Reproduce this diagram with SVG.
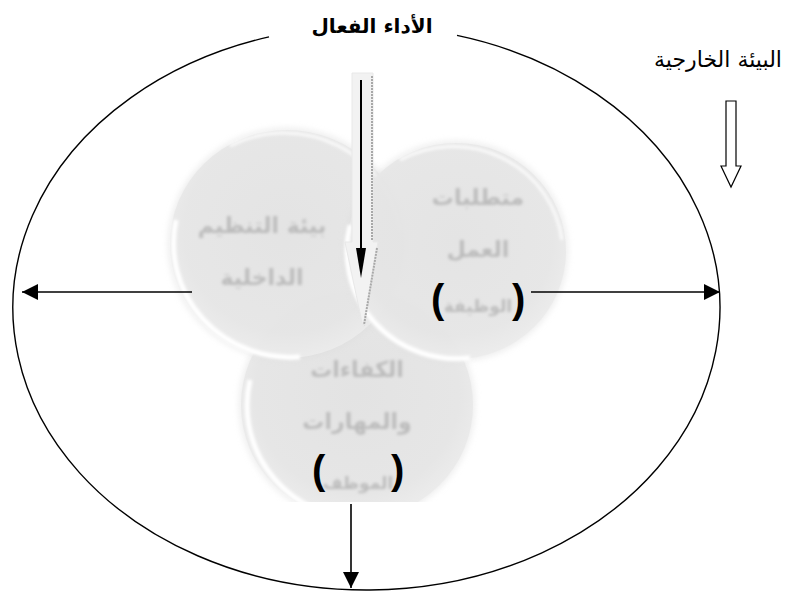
<svg xmlns="http://www.w3.org/2000/svg" width="793" height="594" viewBox="0 0 793 594">
<style>
.ar{font-family:"DejaVu Sans","Noto Sans",sans-serif;}
.title{font-size:20px;font-weight:bold;fill:#000;}
.lbl{font-size:22px;fill:#000;}
.ghost{font-size:22px;font-weight:bold;fill:#bcbcbc;}
.ghost-s{font-size:17px;font-weight:bold;fill:#bcbcbc;}
.par{font-family:"Liberation Sans",sans-serif;font-size:40px;font-weight:bold;fill:#000;}
.conn{stroke:#000;stroke-width:1.6;fill:none;}
</style>
<defs>
<radialGradient id="bub" cx="0.5" cy="0.45" r="0.55">
<stop offset="0" stop-color="#e3e3e3"/>
<stop offset="0.8" stop-color="#e6e6e6"/>
<stop offset="1" stop-color="#ececec"/>
</radialGradient>
<filter id="soft" x="-20%" y="-20%" width="140%" height="140%"><feGaussianBlur stdDeviation="1.6"/></filter>
<filter id="halo" x="-20%" y="-20%" width="140%" height="140%"><feGaussianBlur stdDeviation="3"/></filter>
<marker id="tri" viewBox="0 0 16 16" refX="16" refY="8" markerWidth="16" markerHeight="16" markerUnits="userSpaceOnUse" orient="auto">
<path d="M0,0 L16,8 L0,16 Z" fill="#000"/>
</marker>
<clipPath id="cutB"><rect x="0" y="0" width="793" height="502"/></clipPath>
</defs>

<!-- outer environment ellipse -->
<g id="outer">
<path d="M457,35.4 A353.5,282 0 1 1 269,36.9" fill="none" stroke="#000" stroke-width="1.4"/>
<text class="ar title" x="372" y="33" text-anchor="middle">الأداء الفعال</text>
</g>

<g id="external">
<text class="ar lbl" x="718" y="67" text-anchor="middle">البيئة الخارجية</text>
<path d="M726,101 L736,101 L736,166 L741,166 L731,187 L721,166 L726,166 Z" fill="#fff" stroke="#000" stroke-width="1.2"/>
</g>

<!-- bottom bubble -->
<g id="skills" clip-path="url(#cutB)">
<ellipse cx="357" cy="405" rx="118" ry="116" fill="#dcdcdc" opacity="0.5" filter="url(#halo)"/>
<ellipse cx="357" cy="405" rx="116" ry="114" fill="url(#bub)"/>
<path d="M250,380 A116,114 0 0 0 345,518" fill="none" stroke="#fff" stroke-width="5" filter="url(#soft)"/>
<g filter="url(#soft)">
<text class="ar ghost" x="357" y="377" text-anchor="middle">الكفاءات</text>
<text class="ar ghost" x="357" y="429" text-anchor="middle">والمهارات</text>
<text class="ar ghost-s" x="358" y="489" text-anchor="middle">الموظف</text>
</g>
<text class="par" x="312" y="484">(</text>
<text class="par" x="391" y="484">)</text>
</g>

<!-- left bubble -->
<g id="internal">
<ellipse cx="287" cy="244" rx="119" ry="116" fill="#dcdcdc" opacity="0.5" filter="url(#halo)"/>
<ellipse cx="287" cy="244" rx="117" ry="114" fill="url(#bub)" opacity="0.93"/>
<path d="M176,220 A117,114 0 0 0 300,357" fill="none" stroke="#fff" stroke-width="5" filter="url(#soft)"/>
<path d="M230,146 A117,114 0 0 1 400,230" fill="none" stroke="#fff" stroke-width="3" opacity="0.8" filter="url(#soft)"/>
<g filter="url(#soft)">
<text class="ar ghost" x="262" y="233" text-anchor="middle">بيئة التنظيم</text>
<text class="ar ghost" x="262" y="285" text-anchor="middle">الداخلية</text>
</g>
</g>

<!-- right bubble -->
<g id="job">
<ellipse cx="456" cy="251" rx="112" ry="110" fill="#dcdcdc" opacity="0.5" filter="url(#halo)"/>
<ellipse cx="456" cy="251" rx="110" ry="108" fill="url(#bub)" opacity="0.9"/>
<path d="M350,225 A110,108 0 0 0 470,358" fill="none" stroke="#fff" stroke-width="5" filter="url(#soft)"/>
<path d="M400,160 A110,108 0 0 1 562,240" fill="none" stroke="#fff" stroke-width="3" opacity="0.8" filter="url(#soft)"/>
<g filter="url(#soft)">
<text class="ar ghost" x="478" y="205" text-anchor="middle">متطلبات</text>
<text class="ar ghost" x="478" y="257" text-anchor="middle">العمل</text>
<text class="ar ghost-s" x="478" y="312" text-anchor="middle">الوظيفة</text>
</g>
<text class="par" x="431" y="313">(</text>
<text class="par" x="512" y="313">)</text>
</g>

<!-- central performance arrow -->
<g id="core">
<path d="M352,73 L373,73 L373,242 L378,242 L363,327 L345,242 L352,242 Z" fill="#f2f2f2" stroke="#e8e8e8" stroke-width="1"/>
<path d="M372,76 L372,240 M377,248 L364,325" stroke="#a8a8a8" stroke-width="2" stroke-dasharray="2,1" fill="none"/>
<line x1="361" y1="80" x2="361" y2="250" stroke="#000" stroke-width="2"/>
<path d="M356,248 L366,248 L361,278 Z" fill="#000"/>
</g>

<!-- connectors -->
<g id="connectors">
<line class="conn" x1="192" y1="292" x2="22" y2="292" marker-end="url(#tri)"/>
<line class="conn" x1="531" y1="292" x2="720" y2="292" marker-end="url(#tri)"/>
<line class="conn" x1="351" y1="504" x2="351" y2="588" marker-end="url(#tri)"/>
</g>
</svg>
